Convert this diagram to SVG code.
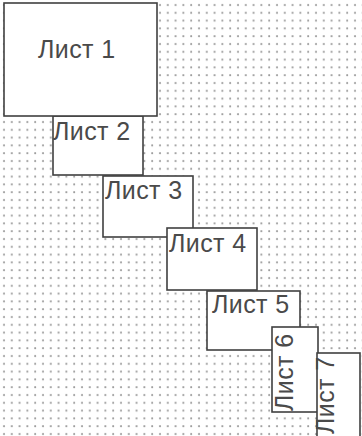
<svg xmlns="http://www.w3.org/2000/svg" width="362" height="436" viewBox="0 0 362 436">
<defs>
<pattern id="grid" x="0" y="0" width="7.8" height="7.8" patternUnits="userSpaceOnUse">
<circle cx="4" cy="5" r="1" fill="#9a9a9a"/>
</pattern>
</defs>
<style>
.sheet rect{fill:#fff;stroke:#404040;stroke-width:1.6}
.sheet text{font-family:"Liberation Sans",Arial,sans-serif;font-size:25px;letter-spacing:0.4px;fill:#4a4a4a}
</style>
<rect x="0" y="0" width="362" height="436" fill="#fff"/>
<rect x="0" y="0" width="362" height="436" fill="url(#grid)"/>
<g id="connectors"/>
<g id="sheet2" class="sheet"><rect x="53" y="116" width="90" height="59"/><text x="53" y="140">Лист 2</text></g>
<g id="sheet1" class="sheet"><rect x="4" y="3" width="153" height="113"/><text x="38" y="58">Лист 1</text></g>
<g id="sheet3" class="sheet"><rect x="103" y="176" width="90" height="61"/><text x="105" y="199">Лист 3</text></g>
<g id="sheet4" class="sheet"><rect x="167" y="228" width="90" height="62"/><text x="169" y="252">Лист 4</text></g>
<g id="sheet5" class="sheet"><rect x="207" y="291" width="93" height="59"/><text x="212" y="313">Лист 5</text></g>
<g id="sheet6" class="sheet"><rect x="272" y="327" width="46" height="85"/><text transform="translate(293 411) rotate(-90)">Лист 6</text></g>
<g id="sheet7" class="sheet"><rect x="317" y="353" width="43" height="90"/><text transform="translate(334 434) rotate(-90)">Лист 7</text></g>
</svg>
